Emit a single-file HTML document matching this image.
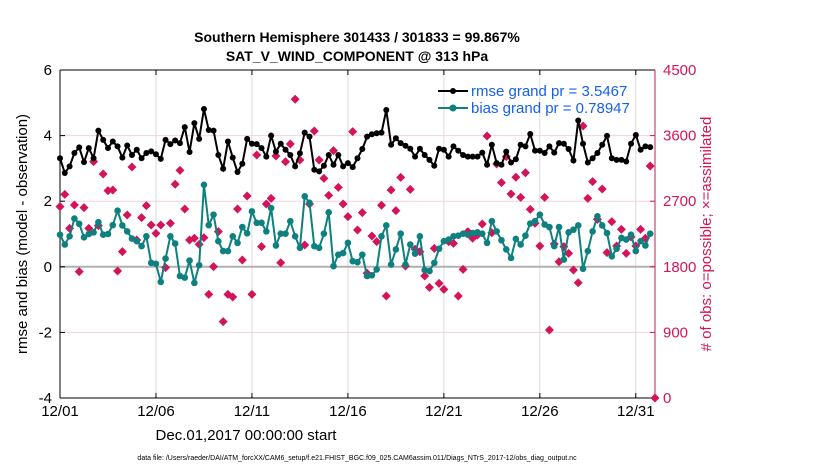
<!DOCTYPE html>
<html><head><meta charset="utf-8">
<style>
body{margin:0;background:#fff;}
svg{display:block;font-family:"Liberation Sans",sans-serif;}
</style></head>
<body>
<svg id="chart" width="830" height="470" viewBox="0 0 830 470">
<rect width="830" height="470" fill="#fff"/>
<text x="357" y="42" text-anchor="middle" font-size="14" font-weight="bold">Southern Hemisphere 301433 / 301833 = 99.867%</text>
<text x="357" y="61" text-anchor="middle" font-size="14" font-weight="bold">SAT_V_WIND_COMPONENT @ 313 hPa</text>
<g id="grid"></g>
<g id="axes"></g>
<g id="marks"></g>
<g>
 <line x1="438" y1="91" x2="468" y2="91" stroke="#000" stroke-width="2"/>
 <circle cx="453" cy="91" r="3" fill="#000"/>
 <text x="471" y="96" font-size="15" fill="#1560f0">rmse grand pr = 3.5467</text>
 <line x1="438" y1="108" x2="468" y2="108" stroke="#0f8080" stroke-width="2"/>
 <circle cx="453" cy="108" r="3.5" fill="#0f8080"/>
 <text x="471" y="113" font-size="15" fill="#1560f0">bias grand pr = 0.78947</text>
</g>
<text x="246" y="440" text-anchor="middle" font-size="15">Dec.01,2017 00:00:00 start</text>
<text x="357" y="460" text-anchor="middle" font-size="7">data file: /Users/raeder/DAI/ATM_forcXX/CAM6_setup/f.e21.FHIST_BGC.f09_025.CAM6assim.011/Diags_NTrS_2017-12/obs_diag_output.nc</text>
<text transform="translate(27,234) rotate(-90)" text-anchor="middle" font-size="15">rmse and bias (model - observation)</text>
<text transform="translate(711,234) rotate(-90)" text-anchor="middle" font-size="15" fill="#d4145a"># of obs: o=possible; ×=assimilated</text>
</svg>
<script>
const xTickLabels=["12/01","12/06","12/11","12/16","12/21","12/26","12/31"];
const xTickDays=[0,5,10,15,20,25,30];
const leftTicks=[6,4,2,0,-2,-4];
const rightTicks=[4500,3600,2700,1800,900,0];
const rmse=[3.31,2.86,3.06,3.47,3.64,3.19,3.62,3.31,4.15,3.87,3.62,3.82,3.67,3.33,3.70,3.41,3.57,3.31,3.47,3.52,3.43,3.29,3.87,3.74,3.85,3.77,4.26,3.50,4.38,3.90,4.81,4.17,4.15,3.41,2.99,3.82,3.33,2.89,3.14,3.90,3.75,3.74,
3.62,3.36,4.00,3.51,3.75,3.57,3.41,3.06,3.46,4.09,3.97,2.96,2.91,3.08,3.41,3.11,3.41,3.06,3.16,3.04,3.31,3.59,3.97,4.04,4.07,4.09,4.78,3.72,3.92,3.77,3.69,3.60,3.36,3.60,3.41,3.26,3.08,3.60,3.57,3.36,3.67,
3.54,3.41,3.36,3.36,3.36,3.48,3.11,3.72,3.16,3.11,3.51,3.18,3.28,3.72,3.67,4.05,3.54,3.54,3.47,3.67,3.48,3.77,3.75,3.59,3.24,4.46,3.75,3.18,3.31,3.47,3.72,3.99,3.31,3.26,3.26,3.21,3.75,4.02,3.57,3.67,3.65];
const bias=[0.98,0.68,0.93,1.47,1.31,0.90,1.00,1.05,1.36,0.98,1.00,1.27,1.71,1.26,1.08,0.86,0.78,0.63,0.93,0.12,0.09,-0.46,0.25,0.93,0.71,-0.28,-0.33,0.19,-0.49,0.05,2.50,1.27,1.59,0.78,0.48,0.48,0.93,0.73,1.21,1.02,1.69,1.34,
1.34,1.08,1.79,0.65,1.01,1.01,1.39,0.93,0.58,2.15,1.95,0.63,0.58,1.01,1.66,0.02,0.37,0.42,0.73,0.17,0.14,0.37,-0.28,-0.26,-0.08,0.93,1.26,0.07,0.53,1.01,0.07,0.68,0.40,0.93,-0.10,-0.13,0.12,0.55,0.78,0.83,0.93,
0.95,1.01,0.98,1.03,1.05,1.01,0.73,1.39,1.08,0.81,0.53,0.27,0.85,0.68,0.95,1.32,1.39,1.59,1.29,1.21,0.63,1.21,0.22,1.05,1.13,1.26,-0.06,0.48,1.08,1.54,1.26,1.03,0.32,0.55,0.88,0.83,0.98,0.48,0.78,0.65,1.01];
const obsCount=[2625,2794,2328,2648,1733,2611,2328,3243,2365,3073,2845,2854,1742,2008,2511,3169,2168,2475,2639,2374,2259,2374,1788,2397,2932,3123,2593,2168,2191,2108,2200,1422,1802,2282,1047,1422,1385,2593,1893,2771,1422,3334,
2076,2662,2738,3320,1856,3242,3485,4098,3265,2099,2662,3663,3265,3014,2780,3394,2890,2662,2488,3654,2305,2543,1711,2223,2145,2644,1400,2854,2570,3027,1811,2863,2040,2007,1674,1518,2053,1573,1491,2145,2122,
1400,1765,2282,2191,2237,2388,3594,2268,3210,2954,3311,2799,3028,2753,3091,2588,2397,2085,2753,933,2112,1870,2076,1985,1756,1582,3731,2739,2968,2451,2867,1994,2419,2085,2314,1985,2209,2085,2314,2191,3183,0];

const L=60,R=655,T=70,B=398,NS="http://www.w3.org/2000/svg";
const xs=i=>L+i*(R-L)/124;
const xd=d=>L+d*(R-L)/31;
const yl=v=>T+(6-v)*(B-T)/10;
const yr=v=>T+(4500-v)*(B-T)/4500;
function mk(tag,attrs,parent){const e=document.createElementNS(NS,tag);for(const k in attrs)e.setAttribute(k,attrs[k]);parent.appendChild(e);return e;}
const grid=document.getElementById('grid'),axes=document.getElementById('axes'),marks=document.getElementById('marks');
xTickDays.forEach((d,i)=>{
 const g=mk('line',{x1:xd(d),x2:xd(d),y1:T,y2:B,stroke:'#dcdcdc','stroke-width':1},grid);
 
 
 mk('line',{x1:xd(d),x2:xd(d),y1:B,y2:B-5,stroke:'#000'},axes);
 mk('line',{x1:xd(d),x2:xd(d),y1:T,y2:T+5,stroke:'#000'},axes);
 const t=mk('text',{x:xd(d),y:B+18,'text-anchor':'middle','font-size':15},axes);
 t.textContent=xTickLabels[i];
 
 
});
rightTicks.forEach(v=>{
 if(v>0&&v<4500){const g=mk('line',{x1:L,x2:R,y1:yr(v),y2:yr(v),stroke:'#f3d3df','stroke-width':1},grid);
 
 }
 mk('line',{x1:R,x2:R-5,y1:yr(v),y2:yr(v),stroke:'#d4145a'},axes);
 const t=mk('text',{x:R+8,y:yr(v)+5,'font-size':15,fill:'#d4145a'},axes);
 t.textContent=v;
 
 
});
leftTicks.forEach(v=>{
 mk('line',{x1:L,x2:L+5,y1:yl(v),y2:yl(v),stroke:'#000'},axes);
 const t=mk('text',{x:L-8,y:yl(v)+5,'text-anchor':'end','font-size':15},axes);
 t.textContent=v;
 
 
});
const z=mk('line',{x1:L,x2:R,y1:yl(0),y2:yl(0),stroke:'#b0b0b0','stroke-width':2},grid);


mk('line',{x1:L,x2:R,y1:T,y2:T,stroke:'#000'},axes);
mk('line',{x1:L,x2:R,y1:B,y2:B,stroke:'#000'},axes);
mk('line',{x1:L,x2:L,y1:T,y2:B,stroke:'#000'},axes);
mk('line',{x1:R,x2:R,y1:T,y2:B,stroke:'#d4145a'},axes);

obsCount.forEach((c,i)=>{
 const x=xs(i),y=yr(c),s=4.5;
 const p=mk('polygon',{points:`${x},${y-s} ${x+s},${y} ${x},${y+s} ${x-s},${y}`,fill:'#d4145a'},marks);
 
 
});
function series(vals,color,r,name){
 const pl=mk('polyline',{points:vals.map((v,i)=>xs(i)+','+yl(v)).join(' '),fill:'none',stroke:color,'stroke-width':2},marks);
 
 
 vals.forEach((v,i)=>{
  const c=mk('circle',{cx:xs(i),cy:yl(v),r:r,fill:color},marks);
  
  
 });
}
series(bias,'#0f8080',3.3,'bias');
series(rmse,'#000',3,'rmse');
</script>
</body></html>
